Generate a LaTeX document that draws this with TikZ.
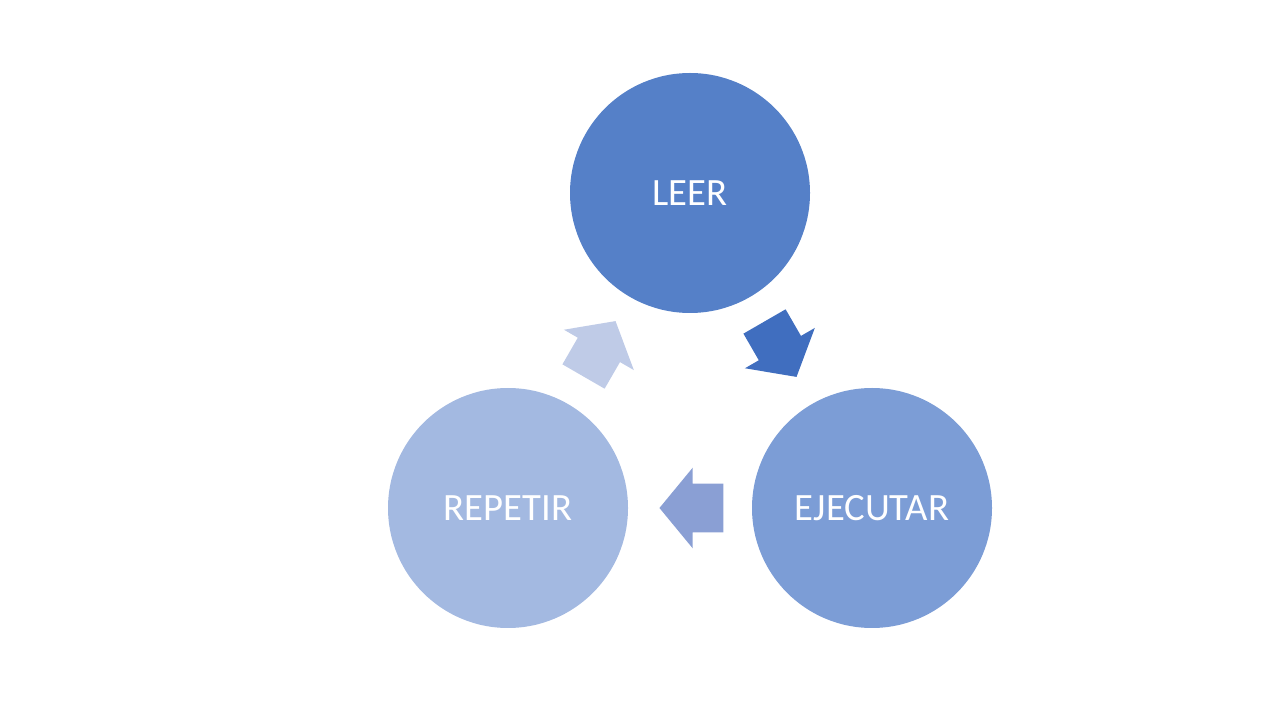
\documentclass[tikz,border=0pt]{standalone}
\usepackage{fontspec}
\setmainfont{Carlito}
\usetikzlibrary{shapes.arrows}

\definecolor{leerblue}{RGB}{85,128,200}
\definecolor{ejecblue}{RGB}{124,157,214}
\definecolor{repeblue}{RGB}{163,185,225}
\definecolor{arrowA}{RGB}{64,110,191}
\definecolor{arrowB}{RGB}{138,159,212}
\definecolor{arrowC}{RGB}{191,203,231}

\tikzset{
  stage/.style={circle, minimum size=4.8cm, inner sep=0pt, text=white,
    font=\fontsize{22}{26}\selectfont},
  cyclearrow/.style={single arrow, inner xsep=0pt, inner ysep=0.48cm,
    minimum height=1.28cm, single arrow head extend=0.32cm,
    single arrow tip angle=101}
}

\begin{document}
\begin{tikzpicture}
			\useasboundingbox (0,0) rectangle (25.6,14.4);
			%\draw[step=1cm,gray,very thin] (0,0) grid (25.6,14.4);
			\node[stage, fill=leerblue] (leer) at (13.8,10.54) {LEER};
			\node[stage, fill=ejecblue] (ejecutar) at (17.44,4.24) {EJECUTAR};
			\node[stage, fill=repeblue] (repetir) at (10.16,4.24) {REPETIR};
			\node[cyclearrow, fill=arrowA, rotate=-60] (leer-ejec) at (15.51,7.59) {};
			\node[cyclearrow, fill=arrowB, rotate=180] (ejec-repe) at (14.03,4.24) {};
			\node[cyclearrow, fill=arrowC, rotate=60] (repe-leer) at (11.89,7.25) {};
\end{tikzpicture}
\end{document}
